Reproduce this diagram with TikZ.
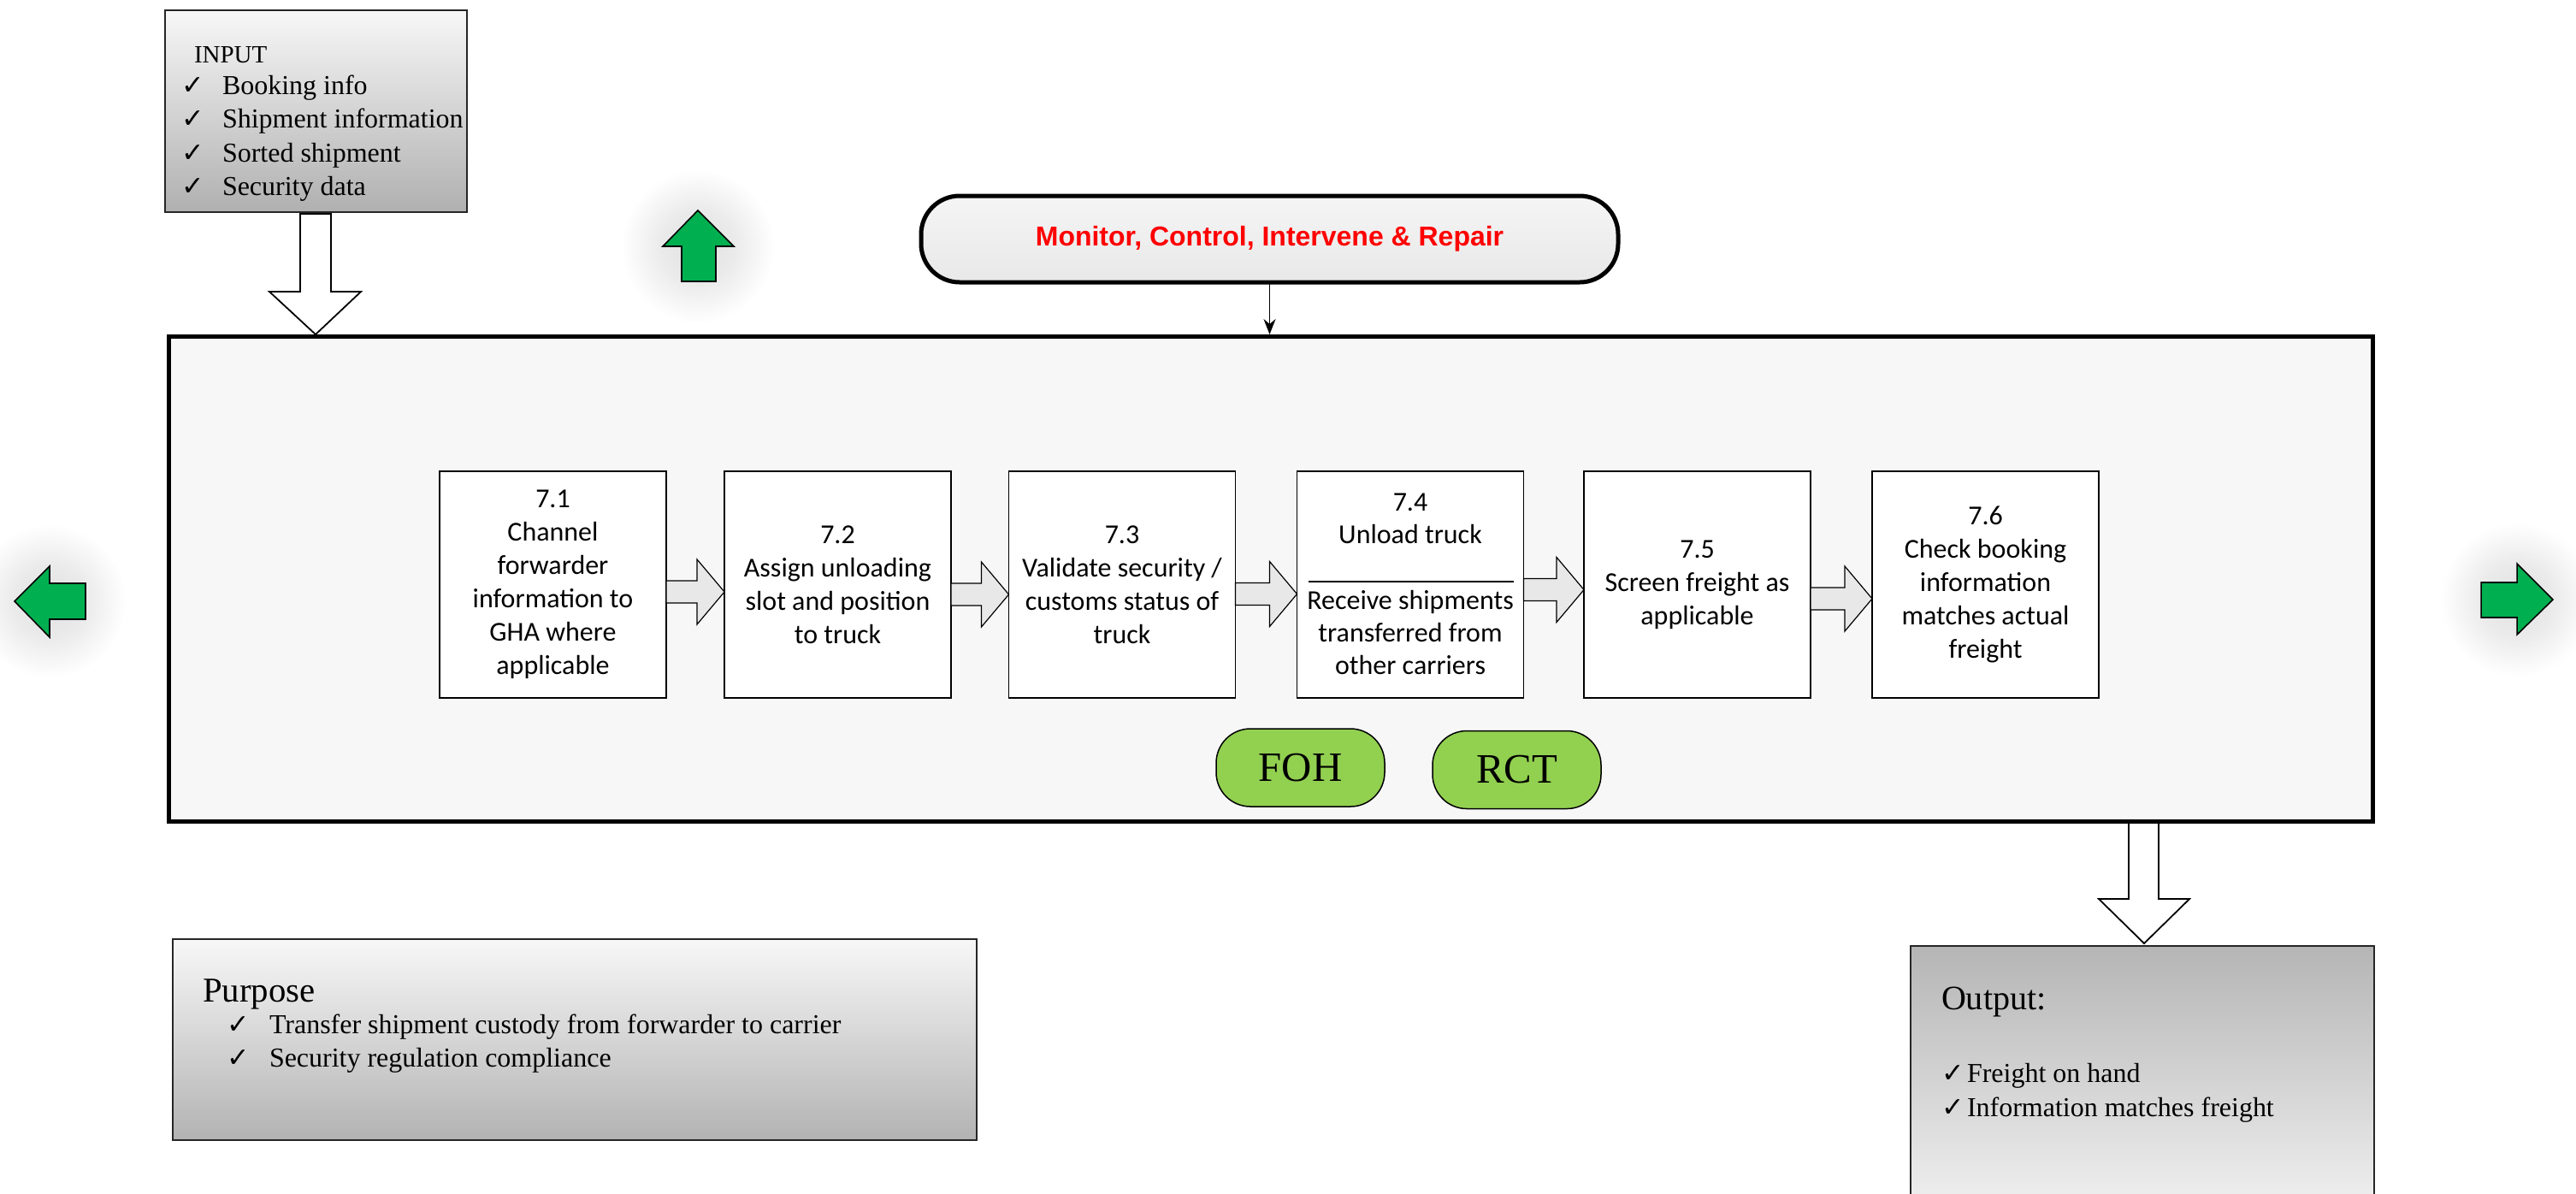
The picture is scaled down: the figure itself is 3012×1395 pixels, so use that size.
\documentclass[tikz,border=0pt]{standalone}
\usepackage{fontspec}
\setmainfont{Liberation Serif}
\newfontfamily\calibrifont{Carlito}
\newfontfamily\arialfont{Liberation Sans}
\newfontfamily\symfont{DejaVu Sans}
\usetikzlibrary{calc,arrows.meta}
\definecolor{arrgreen}{HTML}{00B050}
\definecolor{pillgreen}{HTML}{92D050}
\definecolor{panel}{HTML}{F7F7F7}
\definecolor{monred}{HTML}{FF0000}
\pgfdeclareradialshading{glow}{\pgfpoint{0bp}{0bp}}{color(0bp)=(black!12); color(12bp)=(black!8); color(25bp)=(white); color(50bp)=(white)}
\newcommand{\hblk}[3]{%
  \draw[blkarrow] ($(#1.east)+(0,#3-13)$) -- ($(#2.west)+(-32,#3-13)$) -- ($(#2.west)+(-32,#3-38)$)
   -- ($(#2.west)+(0,#3)$) -- ($(#2.west)+(-32,#3+38)$) -- ($(#2.west)+(-32,#3+13)$)
   -- ($(#1.east)+(0,#3+13)$) -- cycle;}
\begin{document}
\begin{tikzpicture}[x=0.1mm,y=-0.1mm,
  every node/.style={inner sep=0pt,outer sep=0pt},
  mainbox/.style={draw=black,line width=0.5mm,fill=panel},
  monbox/.style={draw=black,line width=0.5mm,rounded corners=4.5mm,top color=white!96!black,bottom color=black!9,
     font=\arialfont\bfseries\fontsize{9.1}{11}\selectfont,text=monred},
  stepbox/.style={draw=black,line width=0.18mm,fill=white,minimum width=26.5mm,minimum height=26.5mm,
     align=center,font=\calibrifont\fontsize{9.1}{11.1}\selectfont},
  steptext/.style={font=\calibrifont\fontsize{9.1}{11.1}\selectfont},
  blkarrow/.style={draw=black,line width=0.12mm,fill=black!9},
  bigarrow/.style={draw=black,line width=0.18mm,fill=white},
  greenarrow/.style={draw=black,line width=0.16mm,fill=arrgreen},
  pill/.style={draw=black,line width=0.15mm,fill=pillgreen,rounded corners=4mm,minimum width=19.7mm,minimum height=9.1mm,
     font=\fontsize{13.9}{15}\selectfont},
  infobox/.style={draw=black!85,line width=0.18mm},
  item/.style={anchor=base west,font=\fontsize{9.1}{11.1}\selectfont},
  head/.style={anchor=base west,font=\fontsize{11.4}{13}\selectfont},
  chk/.style={anchor=base west,font=\symfont\fontsize{9}{10}\selectfont},
  ctrl/.style={line width=0.15mm,-{Stealth[length=1.8mm,width=1.4mm]}}]
\useasboundingbox (0,0) rectangle (3012,1395);

% glows behind green arrows
\shade[shading=glow] (58,703) circle[radius=90];
\shade[shading=glow] (2943,701) circle[radius=90];
\shade[shading=glow] (816,288) circle[radius=90];

% main process panel
\node[mainbox,minimum width=257.7mm,minimum height=56.7mm] (main) at (1485.5,676.5) {};

% monitor box
\node[monbox,minimum width=81.5mm,minimum height=10.1mm] (mon) at (1484.5,279.5) {Monitor, Control, Intervene \& Repair};
\draw[ctrl] (mon.south) -- ($(mon.south |- main.north)+(0,-2)$);

% input box
\node[infobox,top color=black!3,bottom color=black!31,minimum width=35.3mm,minimum height=23.6mm] (inbox) at (369.5,130) {};
\node[anchor=base west,font=\fontsize{8.25}{9}\selectfont] (inT) at (227,73) {INPUT};
\foreach \y/\t [count=\k] in {110/Booking info,149.5/Shipment information,189/Sorted shipment,228.5/Security data}{
  \node[chk] (inC\k) at (212,\y) {✓};
  \node[item] (inI\k) at (260,\y) {\t};
}
% input arrow
\coordinate (inTip) at (369,391);
\draw[bigarrow] (351,250) -- (387,250) -- (387,341) -- (422,341) -- (inTip) -- (315,341) -- (351,341) -- cycle;

% step boxes
\node[stepbox] (s1) at (646.5,683.5) {7.1\\Channel\\forwarder\\information to\\GHA where\\applicable};
\node[stepbox] (s2) at (979.5,683.5) {7.2\\Assign unloading\\slot and position\\to truck};
\node[stepbox] (s3) at (1312,683.5) {7.3\\Validate security /\\customs status of\\truck};
\node[stepbox] (s4) at (1649,683.5) {};
\node[stepbox] (s5) at (1984.5,683.5) {7.5\\Screen freight as\\applicable};
\node[stepbox] (s6) at (2321.5,683.5) {7.6\\Check booking\\information\\matches actual\\freight};
\node[steptext,anchor=base] (s4a) at (1649,597) {7.4};
\node[steptext,anchor=base] (s4b) at (1649,635) {Unload truck};
\draw[line width=0.2mm] ($(s4.center)+(-119,-3.5)$) -- ($(s4.center)+(121,-3.5)$);
\node[steptext,anchor=base] (s4c) at (1649,712) {Receive shipments};
\node[steptext,anchor=base] (s4d) at (1649,750) {transferred from};
\node[steptext,anchor=base] (s4e) at (1649,788) {other carriers};

% block arrows between steps
\hblk{s1}{s2}{8.5}
\hblk{s2}{s3}{11.5}
\hblk{s3}{s4}{11}
\hblk{s4}{s5}{6}
\hblk{s5}{s6}{16.5}

% FOH / RCT
\node[pill] (foh) at (1520.5,897.5) {FOH};
\node[pill] (rct) at (1773.5,900) {RCT};

% green arrows
\draw[greenarrow] (17,703) -- (58,662) -- (58,682) -- (100,682) -- (100,724) -- (58,724) -- (58,745) -- cycle;
\draw[greenarrow] (2985,701) -- (2943,742) -- (2943,722) -- (2901,722) -- (2901,681) -- (2943,681) -- (2943,659) -- cycle;
\draw[greenarrow] (816,246) -- (858,288) -- (837,288) -- (837,329) -- (797,329) -- (797,288) -- (775,288) -- cycle;

% purpose box
\node[infobox,top color=black!3,bottom color=black!30,minimum width=94mm,minimum height=23.5mm] (purp) at (672,1215.5) {};
\node[head,font=\fontsize{11.6}{13}\selectfont] (purpT) at (237,1171) {Purpose};
\node[chk] (pC1) at (265,1208) {✓};
\node[item] (pI1) at (315,1208) {Transfer shipment custody from forwarder to carrier};
\node[chk] (pC2) at (265,1247) {✓};
\node[item] (pI2) at (315,1247) {Security regulation compliance};

% output arrow and box
\node[infobox,top color=black!29,bottom color=black!5,minimum width=54.2mm,minimum height=32mm,anchor=north west] (outbox) at (2234,1106) {};
\coordinate (outTip) at (2507,1103);
\draw[bigarrow] (2489,962) -- (2524,962) -- (2524,1051) -- (2560,1051) -- (outTip) -- (2454,1051) -- (2489,1051) -- cycle;
\node[head] (outT) at (2270,1180) {Output:};
\node[chk] (oC1) at (2270,1265) {✓};
\node[item] (oI1) at (2300,1265) {Freight on hand};
\node[chk] (oC2) at (2270,1305) {✓};
\node[item] (oI2) at (2300,1305) {Information matches freight};
\end{tikzpicture}
\end{document}
